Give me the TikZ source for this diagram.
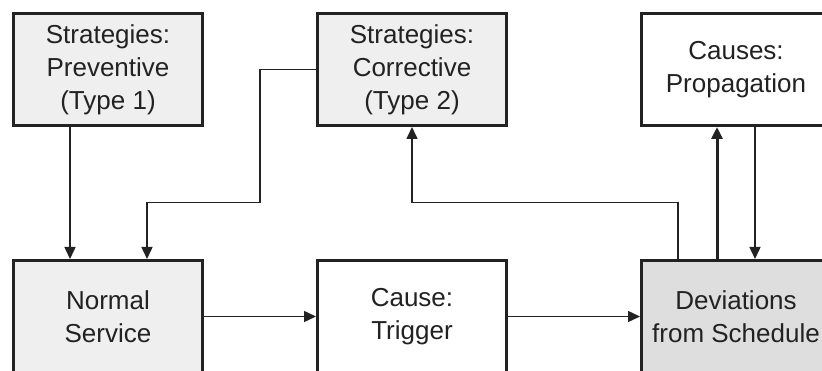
\documentclass[tikz,border=0pt]{standalone}
\usepackage{fontspec}
\setmainfont{Liberation Sans}
\usepackage{xcolor}
\usepackage{tikz}
\usetikzlibrary{positioning,arrows.meta}
\pgfdeclarelayer{nodelayer}
\pgfdeclarelayer{edgelayer}
\pgfsetlayers{main,edgelayer,nodelayer}
\definecolor{lightbox}{HTML}{EFEFEF}
\definecolor{darkbox}{HTML}{DEDEDE}
\definecolor{inkline}{HTML}{222222}
\tikzstyle{plain box}=[draw=inkline, line width=3pt, fill=white, minimum width=189pt, minimum height=112pt, inner sep=0pt, align=center, text=inkline, font=\fontsize{26}{33}\selectfont]
\tikzstyle{gray box}=[plain box, fill=lightbox]
\tikzstyle{dark box}=[plain box, fill=darkbox]
\tikzstyle{flow_edge}=[draw=inkline, line width=1.5pt, -{Triangle[length=12pt,width=11pt]}]

\begin{document}
\begin{tikzpicture}[x=1pt, y=1pt]
        \useasboundingbox (0,0) rectangle (822,-371);
        \begin{pgfonlayer}{nodelayer}
            \clip (0,0) rectangle (822,-371);
            \node[style=gray box] (prev) at (108,-69.5) {Strategies:\\Preventive\\(Type 1)};
            \node[style=gray box, right=112pt of prev] (corr) {Strategies:\\Corrective\\(Type 2)};
            \node[style=plain box, right=132pt of corr] (prop) {Causes:\\Propagation};
            \node[style=gray box, below=132pt of prev] (normal) {Normal\\Service};
            \node[style=plain box, below=132pt of corr] (trig) {Cause:\\Trigger};
            \node[style=dark box, below=132pt of prop] (dev) {Deviations\\from Schedule};
        \end{pgfonlayer}
        \begin{pgfonlayer}{edgelayer}
            \clip (0,0) rectangle (822,-371);
            \draw[style={flow_edge}] ([xshift=-38pt]prev.south) -- ([xshift=-38pt]normal.north);
            \draw[style={flow_edge}] (corr.west) -| ++(-56pt,-133pt) -| ([xshift=39pt]normal.north);
            \draw[style={flow_edge}] (normal.east) -- (trig.west);
            \draw[style={flow_edge}] (trig.east) -- (dev.west);
            \draw[style={flow_edge}] ([xshift=-58pt]dev.north) -- ++(0,56.5pt) -| (corr.south);
            \draw[style={flow_edge}, line width=3pt] ([xshift=-19pt]dev.north) -- ([xshift=-19pt]prop.south);
            \draw[style={flow_edge}] ([xshift=19pt]prop.south) -- ([xshift=19pt]dev.north);
        \end{pgfonlayer}
    \end{tikzpicture}
\end{document}
